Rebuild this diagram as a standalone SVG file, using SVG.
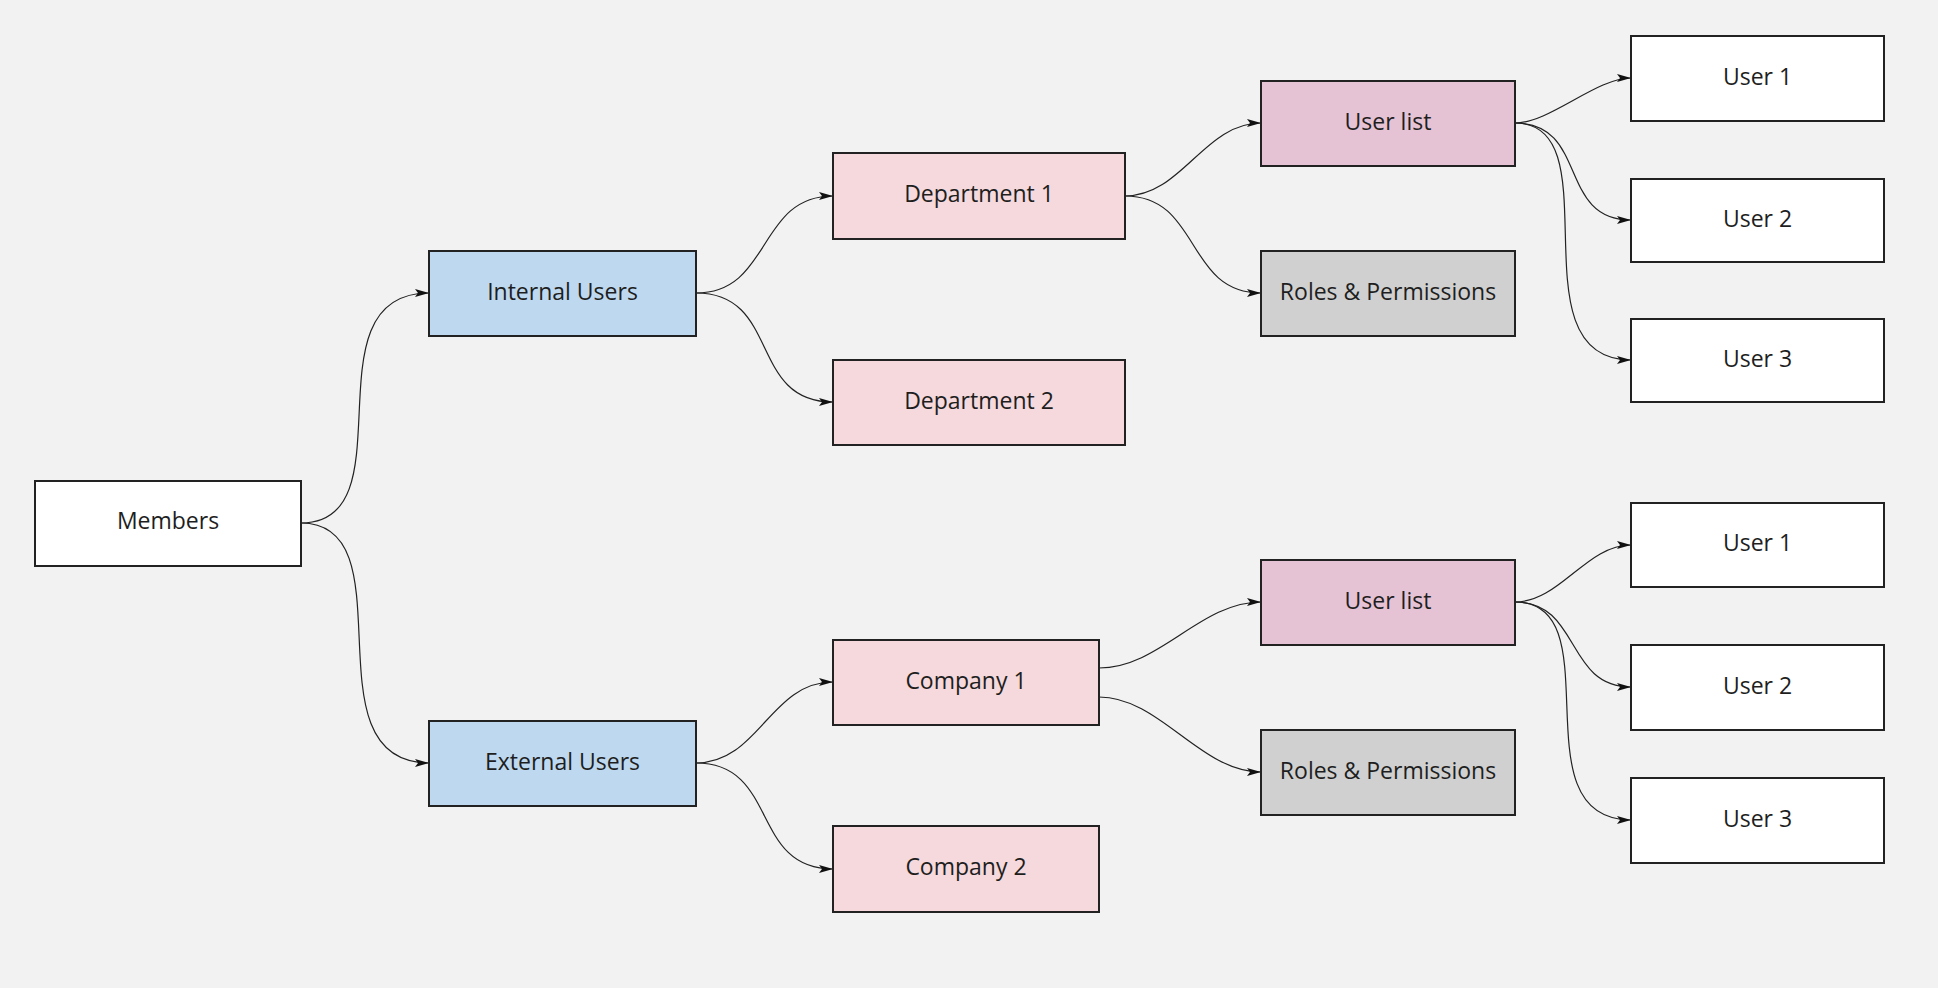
<svg xmlns="http://www.w3.org/2000/svg" width="1938" height="988" viewBox="0 0 1938 988">
<defs>
<style>
.n rect{stroke:#222;stroke-width:2}
.n text{font-family:"Open Sans","Noto Sans",sans-serif;font-size:23px;fill:#1e1e1e;text-anchor:middle}
.w{fill:#ffffff}.b{fill:#bed9ef}.p{fill:#f5d9dc}.m{fill:#e6c3d4}.g{fill:#d0d0d0}
#edges path{fill:none;stroke:#222;stroke-width:1.2;marker-end:url(#ah)}
</style>
<marker id="ah" markerUnits="userSpaceOnUse" markerWidth="16" markerHeight="10" refX="14" refY="4" orient="auto">
<path d="M0,0 L14,4 L0,8 L3,4 z" fill="#111"/>
</marker>
</defs>
<rect width="1938" height="988" fill="#f2f2f2"/>
<g id="edges">
<path d="M301,523 C411,523 304,293 429,293"/>
<path d="M301,523 C411,523 304,763 429,763"/>
<path d="M696,293 C772,293 757,196 833,196"/>
<path d="M696,293 C781,293 748,402 833,402"/>
<path d="M1125,196 C1182,196 1204,123 1261,123"/>
<path d="M1125,196 C1201,196 1185,293 1261,293"/>
<path d="M1515,123 C1550,123 1596,78 1631,78"/>
<path d="M1515,123 C1589,123 1557,220 1631,220"/>
<path d="M1515,123 C1615,123 1511,360 1631,360"/>
<path d="M696,763 C759,763 770,682 833,682"/>
<path d="M696,763 C779,763 750,869 833,869"/>
<path d="M1099,668 C1160,668 1200,602 1261,602"/>
<path d="M1099,697 C1160,697 1200,772 1261,772"/>
<path d="M1515,602 C1560,602 1586,545 1631,545"/>
<path d="M1515,602 C1581,602 1565,687 1631,687"/>
<path d="M1515,602 C1615,602 1515,820 1631,820"/>
</g>
<g id="members" class="n"><rect class="w" x="35" y="481" width="266" height="85"/><text x="168" y="529">Members</text></g>
<g id="internal" class="n"><rect class="b" x="429" y="251" width="267" height="85"/><text x="562.5" y="299.5">Internal Users</text></g>
<g id="external" class="n"><rect class="b" x="429" y="721" width="267" height="85"/><text x="562.5" y="769.5">External Users</text></g>
<g id="dept1" class="n"><rect class="p" x="833" y="153" width="292" height="86"/><text x="979" y="202">Department 1</text></g>
<g id="dept2" class="n"><rect class="p" x="833" y="360" width="292" height="85"/><text x="979" y="408.5">Department 2</text></g>
<g id="company1" class="n"><rect class="p" x="833" y="640" width="266" height="85"/><text x="966" y="688.5">Company 1</text></g>
<g id="company2" class="n"><rect class="p" x="833" y="826" width="266" height="86"/><text x="966" y="875">Company 2</text></g>
<g id="userlist1" class="n"><rect class="m" x="1261" y="81" width="254" height="85"/><text x="1388" y="129.5">User list</text></g>
<g id="roles1" class="n"><rect class="g" x="1261" y="251" width="254" height="85"/><text x="1388" y="299.5">Roles &amp; Permissions</text></g>
<g id="userlist2" class="n"><rect class="m" x="1261" y="560" width="254" height="85"/><text x="1388" y="608.5">User list</text></g>
<g id="roles2" class="n"><rect class="g" x="1261" y="730" width="254" height="85"/><text x="1388" y="778.5">Roles &amp; Permissions</text></g>
<g id="u1a" class="n"><rect class="w" x="1631" y="36" width="253" height="85"/><text x="1757.5" y="84.5">User 1</text></g>
<g id="u2a" class="n"><rect class="w" x="1631" y="179" width="253" height="83"/><text x="1757.5" y="226.5">User 2</text></g>
<g id="u3a" class="n"><rect class="w" x="1631" y="319" width="253" height="83"/><text x="1757.5" y="366.5">User 3</text></g>
<g id="u1b" class="n"><rect class="w" x="1631" y="503" width="253" height="84"/><text x="1757.5" y="551">User 1</text></g>
<g id="u2b" class="n"><rect class="w" x="1631" y="645" width="253" height="85"/><text x="1757.5" y="693.5">User 2</text></g>
<g id="u3b" class="n"><rect class="w" x="1631" y="778" width="253" height="85"/><text x="1757.5" y="826.5">User 3</text></g>
</svg>
